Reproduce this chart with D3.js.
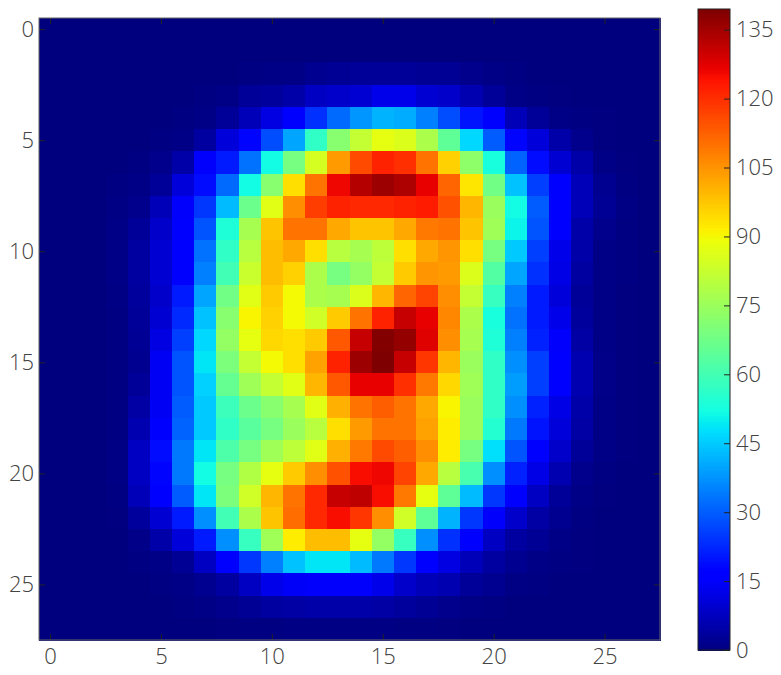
<!DOCTYPE html>
<html>
<head>
<meta charset="utf-8">
<script src="https://cdn.jsdelivr.net/npm/d3@7"></script>
<style>
    html, body { margin: 0; padding: 0; background: #fff; }
    text { font-family: "Open Sans Light", "Open Sans", sans-serif; font-weight: 300; fill: #444; }
</style>
</head>
<body>
<div id="chart"></div>
<script>
const xTicks = [0, 5, 10, 15, 20, 25];
const yTicks = [0, 5, 10, 15, 20, 25];
const barTicks = [0, 15, 30, 45, 60, 75, 90, 105, 120, 135];
const barMax = 139.5;

// mean image, one row per line
const pixels = [
    [0,0,0,0,0,0,0,0,0,0,0,0,0,0,0,0,0,0,0,0,0,0,0,0,0,0,0,0],
    [0,0,0,0,0,0,0,0,0,0,0,0,0,0,0,0,0,0,0,0,0,0,0,0,0,0,0,0],
    [0,0,0,0,0,0,0,0,0,.4,.8,1,2,2.5,3,3,3,2.5,2.5,1.5,1,.5,0,0,0,0,0,0],
    [0,0,0,0,0,0,0,.3,1,3,3.5,5,8,9,10,13,13,10,9,6,3,1,.5,.2,0,0,0,0],
    [0,0,0,0,0,0,.4,1,3,7,12,16,24,32,38,42,41,35,28,20,15.5,7,3,1,.3,.1,0,0],
    [0,0,0,0,0,.3,1,4,11,18,28,40,57,72,82,88,86,78,65,47,30,18,11,5,1.5,.2,0,0],
    [0,0,0,0,.4,1.5,5,15,21,33,52,69,85,104,116,122,120,110,96,73,53,31,19,10,5,1,.2,0],
    [0,0,0,.3,1,3,11,19,32,52,72,94,110,126,133,136,134,127,112,93,68,44,26,15.5,7,2,.4,0],
    [0,0,0,.6,1.5,7,15,25,43,67,87,106,118,122,121,121,122,123,115,100,75,52,30,15.5,7,2.5,.6,0],
    [0,0,0,.8,3,9,16,29,54,77,98,110,110,102,98,98,102,109,110,98,76,51,29,15.5,5,1.5,.4,0],
    [0,0,0,.8,4,10,16,33,57,80,99,102,94,80,77,81,94,102,105,94,69,45,26,13,5,1,.3,0],
    [0,0,0,.8,4,10,17,35,60,83,99,96,78,69,74,82,97,105,104,86,63,40,24,12.5,4,1,.3,0],
    [0,0,0,.7,3.5,9,21,40,68,87,97,90,78,77,86,100,112,117,106,82,58,35,21,11,3,.8,.2,0],
    [0,0,0,.5,3,10,23,44,72,91,96,90,84,97,110,122,131,127,107,78,53,33,21,13,3.5,1,.2,0],
    [0,0,0,.4,2.5,12,26,47,74,88,95,94,97,114,131,139,137,128,106,77,54,35,22,15,4.5,1,.2,0],
    [0,0,0,.3,2,14,29,49,70,82,90,94,103,122,136,139.5,131,119,100,75,57,37,26,15.5,6,1.2,.2,0],
    [0,0,0,.3,3,14,29,46,66,76,82,87,100,114,127,127,120,109,95,76,57,39,26,15.5,6,1.2,.2,0],
    [0,0,0,.3,4.5,14,30,45,59,67,72,77,87,101,110,113,110,102,91,75,57,37,22,12.5,5,1,.2,0],
    [0,0,0,.5,6,16,31,45,57,64,69,75,80,94,104,110,110,103,92,75,55,34,20,11,4.5,1,.2,0],
    [0,0,0,.6,8,19,34,49,62,69,76,81,87,101,109,116,113,106,92,69,48,29,17,9,3,.8,.1,0],
    [0,0,0,.6,8,18,34,52,69,79,88,97,106,115,125,126,117,102,80,61,37,22,12.5,6,1.5,.3,0,0],
    [0,0,0,.4,7,15.5,30,49,70,84,100,110,121,131,132,125,109,88,65,43,25,15.5,8,3,.8,.2,0,0],
    [0,0,0,.2,3.5,10,21,37,60,78,98,111,121,125,119,106,84,65,42,25,15,9,4.5,2,.5,0,0,0],
    [0,0,0,0,1.2,5,11,21,37,58,76,92,99,99,88,74,58,37,24,15.5,8,4,2.5,.8,.2,0,0,0],
    [0,0,0,0,.3,1,2.5,8,15.5,25,35,44,49,49,43,34,25,17,12,7,4,2,1,.4,.1,0,0,0],
    [0,0,0,0,0,.3,1,2,4,8,13,14.5,15,15,15,13,9,7,6,3,2,.6,.3,0,0,0,0,0],
    [0,0,0,0,0,0,.3,.8,1.5,2.5,4,4.5,5,5,5,4.5,3.5,2.5,1.5,.8,.3,0,0,0,0,0,0,0],
    [0,0,0,0,0,0,0,0,.2,.4,.5,.7,.7,.7,.7,.7,.5,.4,.2,0,0,0,0,0,0,0,0,0]
];

const width = 781;
const height = 675;
const plot = { left: 39, right: 660, top: 18, bottom: 640 };
const bar = { left: 698, right: 730, top: 9, bottom: 650 };
const fontSize = "22px";

// matplotlib jet
const jet = d3.scaleLinear()
    .domain([0, 0.11, 0.125, 0.34, 0.35, 0.375, 0.64, 0.65, 0.66, 0.89, 0.91, 1])
    .range(["rgb(0,0,127)", "rgb(0,0,255)", "rgb(0,0,255)", "rgb(0,219,255)", "rgb(0,229,247)",
        "rgb(20,255,226)", "rgb(238,255,8)", "rgb(247,246,0)", "rgb(255,236,0)",
        "rgb(255,19,0)", "rgb(232,0,0)", "rgb(127,0,0)"])
    .clamp(true);
const color = (v) => jet(v / barMax);

const svg = d3.select("#chart")
    .append("svg")
    .attr("width", width)
    .attr("height", height)
    .style("display", "block");

const x = d3.scaleLinear().domain([-0.5, 27.5]).range([plot.left, plot.right]);
const y = d3.scaleLinear().domain([-0.5, 27.5]).range([plot.top, plot.bottom]);

const cells = pixels.flatMap((row, r) => row.map((v, c) => ({ r, c, v })));

svg.append("g")
    .attr("shape-rendering", "crispEdges")
    .selectAll("rect")
    .data(cells)
    .enter()
    .append("rect")
    .attr("x", (d) => x(d.c - 0.5))
    .attr("y", (d) => y(d.r - 0.5))
    .attr("width", (d) => x(d.c + 0.5) - x(d.c - 0.5) + 0.5)
    .attr("height", (d) => y(d.r + 0.5) - y(d.r - 0.5) + 0.5)
    .attr("fill", (d) => color(d.v));

function styleAxis(g) {
    g.select(".domain").remove();
    g.selectAll("line").attr("stroke", "#222").attr("stroke-width", 1);
    g.selectAll("text").style("font-size", fontSize);
}

svg.append("g")
    .attr("transform", `translate(0,${plot.bottom})`)
    .call(d3.axisBottom(x).tickValues(xTicks).tickSizeInner(-6).tickPadding(8))
    .call(styleAxis);

svg.append("g")
    .attr("transform", `translate(0,${plot.top})`)
    .call(d3.axisTop(x).tickValues(xTicks).tickSizeInner(-6).tickFormat(""))
    .call(styleAxis);

svg.append("g")
    .attr("transform", `translate(${plot.left},0)`)
    .call(d3.axisLeft(y).tickValues(yTicks).tickSizeInner(-6).tickPadding(5))
    .call(styleAxis);

svg.append("g")
    .attr("transform", `translate(${plot.right},0)`)
    .call(d3.axisRight(y).tickValues(yTicks).tickSizeInner(-6).tickFormat(""))
    .call(styleAxis);

svg.append("rect")
    .attr("x", plot.left)
    .attr("y", plot.top)
    .attr("width", plot.right - plot.left)
    .attr("height", plot.bottom - plot.top)
    .attr("fill", "none")
    .attr("stroke", "#666")
    .attr("stroke-width", 1);

// colorbar
const barScale = d3.scaleLinear().domain([0, barMax]).range([bar.bottom, bar.top]);
const barSteps = d3.range(0, 256);

svg.append("g")
    .attr("shape-rendering", "crispEdges")
    .selectAll("rect")
    .data(barSteps)
    .enter()
    .append("rect")
    .attr("x", bar.left)
    .attr("width", bar.right - bar.left)
    .attr("y", (d) => barScale((d + 1) / 256 * barMax))
    .attr("height", (bar.bottom - bar.top) / 256 + 1)
    .attr("fill", (d) => jet((d + 0.5) / 256));

svg.append("g")
    .attr("transform", `translate(${bar.right},0)`)
    .call(d3.axisRight(barScale).tickValues(barTicks).tickSizeInner(-6).tickPadding(6))
    .call(styleAxis);

svg.append("rect")
    .attr("x", bar.left)
    .attr("y", bar.top)
    .attr("width", bar.right - bar.left)
    .attr("height", bar.bottom - bar.top)
    .attr("fill", "none")
    .attr("stroke", "#222")
    .attr("stroke-width", 1);
</script>
</body>
</html>
